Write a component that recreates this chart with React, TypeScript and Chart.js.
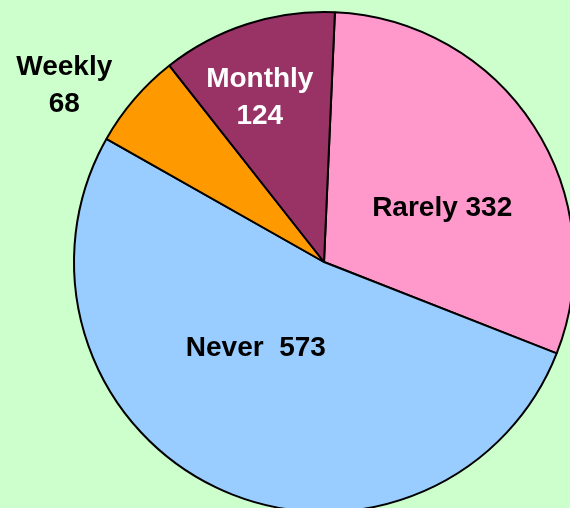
import React, { useEffect, useRef } from "react";
import { Chart, registerables } from "chart.js";

Chart.register(...registerables);

const categories = ["Rarely", "Never", "Weekly", "Monthly"];
const values = [332, 573, 68, 124];
const labelTexts = [["Rarely 332"], ["Never  573"], ["Weekly", "68"], ["Monthly", "124"]];
const colors = ["#FF99CC", "#99CCFF", "#FF9900", "#993366"];
const labelColors = ["#000000", "#000000", "#000000", "#FFFFFF"];
// label placement: angle (deg clockwise from top) and distance in px from centre
const labelPlacement = [
  { angle: 65.4, dist: 130 },
  { angle: 218.3, dist: 110 },
  { angle: 304.2, dist: 314 },
  { angle: 338.6, dist: 176 },
];

const labelPlugin = {
  id: "sliceLabels",
  afterDatasetsDraw(chart: any) {
    const ctx = chart.ctx;
    const meta = chart.getDatasetMeta(0);
    const arc = meta.data[0];
    if (!arc) return;
    const cx = arc.x;
    const cy = arc.y;
    ctx.save();
    ctx.font = "bold 28px 'Liberation Sans', Arial, sans-serif";
    ctx.textAlign = "center";
    ctx.textBaseline = "middle";
    const lineH = 37;
    labelTexts.forEach((lines, i) => {
      const p = labelPlacement[i];
      const a = (p.angle * Math.PI) / 180;
      const x = cx + p.dist * Math.sin(a);
      const y = cy - p.dist * Math.cos(a);
      ctx.fillStyle = labelColors[i];
      const startY = y - ((lines.length - 1) * lineH) / 2;
      lines.forEach((t, j) => ctx.fillText(t, x, startY + j * lineH));
    });
    ctx.restore();
  },
};

export default function App() {
  const ref = useRef<HTMLCanvasElement>(null);
  useEffect(() => {
    if (!ref.current) return;
    const chart = new Chart(ref.current, {
      type: "pie",
      data: {
        labels: categories,
        datasets: [
          {
            data: values,
            backgroundColor: colors,
            borderColor: "#000000",
            borderWidth: 2,
          },
        ],
      },
      options: {
        animation: false,
        responsive: false,
        maintainAspectRatio: false,
        rotation: 2.5,
        radius: 250,
        layout: { padding: 0 },
        plugins: {
          legend: { display: false },
          tooltip: { enabled: false },
        },
      },
      plugins: [labelPlugin],
    });
    return () => chart.destroy();
  }, []);
  return (
    <div
      style={{
        position: "fixed",
        left: 0,
        top: 0,
        width: 570,
        height: 508,
        overflow: "hidden",
        background: "#CCFFCC",
      }}
    >
      <canvas ref={ref} width={648} height={524} style={{ display: "block", width: 648, height: 524 }} />
    </div>
  );
}
